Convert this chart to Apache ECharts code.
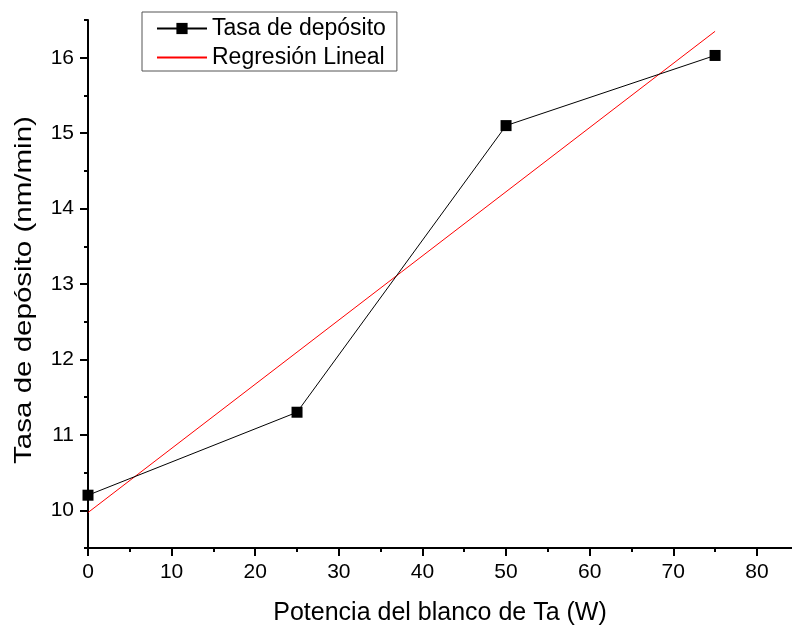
<!DOCTYPE html>
<html>
<head>
<meta charset="utf-8">
<script src="https://cdn.jsdelivr.net/npm/echarts@6/dist/echarts.min.js"></script>
<style>
html, body { margin: 0; padding: 0; background: #fff; }
#main { width: 792px; height: 625px; }
</style>
</head>
<body>
<div id="main"></div>
<script>
// datos
var potencia = [0, 25, 50, 75];
var tasa = [10.2, 11.3, 15.1, 16.03];
// extremos de la regresion lineal
var regX = [0, 75];
var regY = [9.97, 16.35];

var xMajor = [0, 10, 20, 30, 40, 50, 60, 70, 80];
var xMinor = [5, 15, 25, 35, 45, 55, 65, 75];
var yMajor = [10, 11, 12, 13, 14, 15, 16];
var yMinor = [9.5, 10.5, 11.5, 12.5, 13.5, 14.5, 15.5, 16.5];

var fuente = '"Liberation Sans", Arial, sans-serif';

function pares(xs, ys) {
	var out = [];
	for (var i = 0; i < xs.length; i++) {
		out.push([xs[i], ys[i]]);
	}
	return out;
}

var myChart = echarts.init(document.getElementById('main'));

var ejeX = {
	type: 'value',
	min: 0,
	max: 84.2,
	position: 'bottom',
	splitLine: { show: false },
	axisLine: { lineStyle: { color: '#000', width: 2 } },
	axisTick: { customValues: xMajor, length: 8, lineStyle: { color: '#000', width: 2 } },
	axisLabel: { customValues: xMajor, margin: 14, color: '#000', fontSize: 21, fontFamily: fuente },
	name: 'Potencia del blanco de Ta (W)',
	nameLocation: 'middle',
	nameGap: 53,
	nameTextStyle: { color: '#000', fontSize: 25, fontFamily: fuente }
};
var ejeXMenor = {
	type: 'value',
	min: 0,
	max: 84.2,
	position: 'bottom',
	splitLine: { show: false },
	axisLine: { show: false },
	axisTick: { customValues: xMinor, length: 4, lineStyle: { color: '#000', width: 2 } },
	axisLabel: { show: false }
};
var ejeY = {
	type: 'value',
	min: 9.5,
	max: 16.5,
	position: 'left',
	splitLine: { show: false },
	axisLine: { show: true, lineStyle: { color: '#000', width: 2 } },
	axisTick: { show: true, customValues: yMajor, length: 8, lineStyle: { color: '#000', width: 2 } },
	axisLabel: { customValues: yMajor, margin: 14, color: '#000', fontSize: 21, fontFamily: fuente }
};
var ejeYMenor = {
	type: 'value',
	min: 9.5,
	max: 16.5,
	position: 'left',
	splitLine: { show: false },
	axisLine: { show: false },
	axisTick: { show: true, customValues: yMinor, length: 4, lineStyle: { color: '#000', width: 2 } },
	axisLabel: { show: false }
};

var option = {
	backgroundColor: '#fff',
	animation: false,
	grid: { left: 88, right: 0, top: 20, bottom: 77, containLabel: false, outerBoundsMode: 'none' },
	legend: {
		orient: 'vertical',
		left: 142,
		top: 12,
		padding: [5, 11, 2, 14],
		itemGap: 6,
		itemWidth: 50,
		itemHeight: 14,
		borderColor: '#555',
		borderWidth: 1,
		textStyle: { color: '#000', fontSize: 23, fontFamily: fuente },
		data: [
			'Tasa de depósito',
			{ name: 'Regresión Lineal', itemStyle: { opacity: 0 } }
		]
	},
	// titulo del eje Y, algo estirado como en el original
	graphic: [{
		type: 'text',
		x: 24,
		y: 290,
		rotation: Math.PI / 2,
		scaleX: 1.23,
		style: {
			text: 'Tasa de depósito (nm/min)',
			fontSize: 24,
			fontFamily: fuente,
			fill: '#000',
			align: 'center',
			verticalAlign: 'middle'
		}
	}],
	xAxis: [ejeX, ejeXMenor],
	yAxis: [ejeY, ejeYMenor],
	series: [{
		name: 'Tasa de depósito',
		type: 'line',
		xAxisIndex: 0,
		yAxisIndex: 0,
		data: pares(potencia, tasa),
		symbol: 'rect',
		symbolSize: 11,
		itemStyle: { color: '#000' },
		lineStyle: { color: '#000', width: 1 },
		z: 3
	}, {
		name: 'Regresión Lineal',
		type: 'line',
		xAxisIndex: 0,
		yAxisIndex: 0,
		data: pares(regX, regY),
		symbol: 'none',
		itemStyle: { color: '#f00' },
		lineStyle: { color: '#f00', width: 1 },
		z: 2
	}]
};
myChart.setOption(option);
</script>
</body>
</html>
